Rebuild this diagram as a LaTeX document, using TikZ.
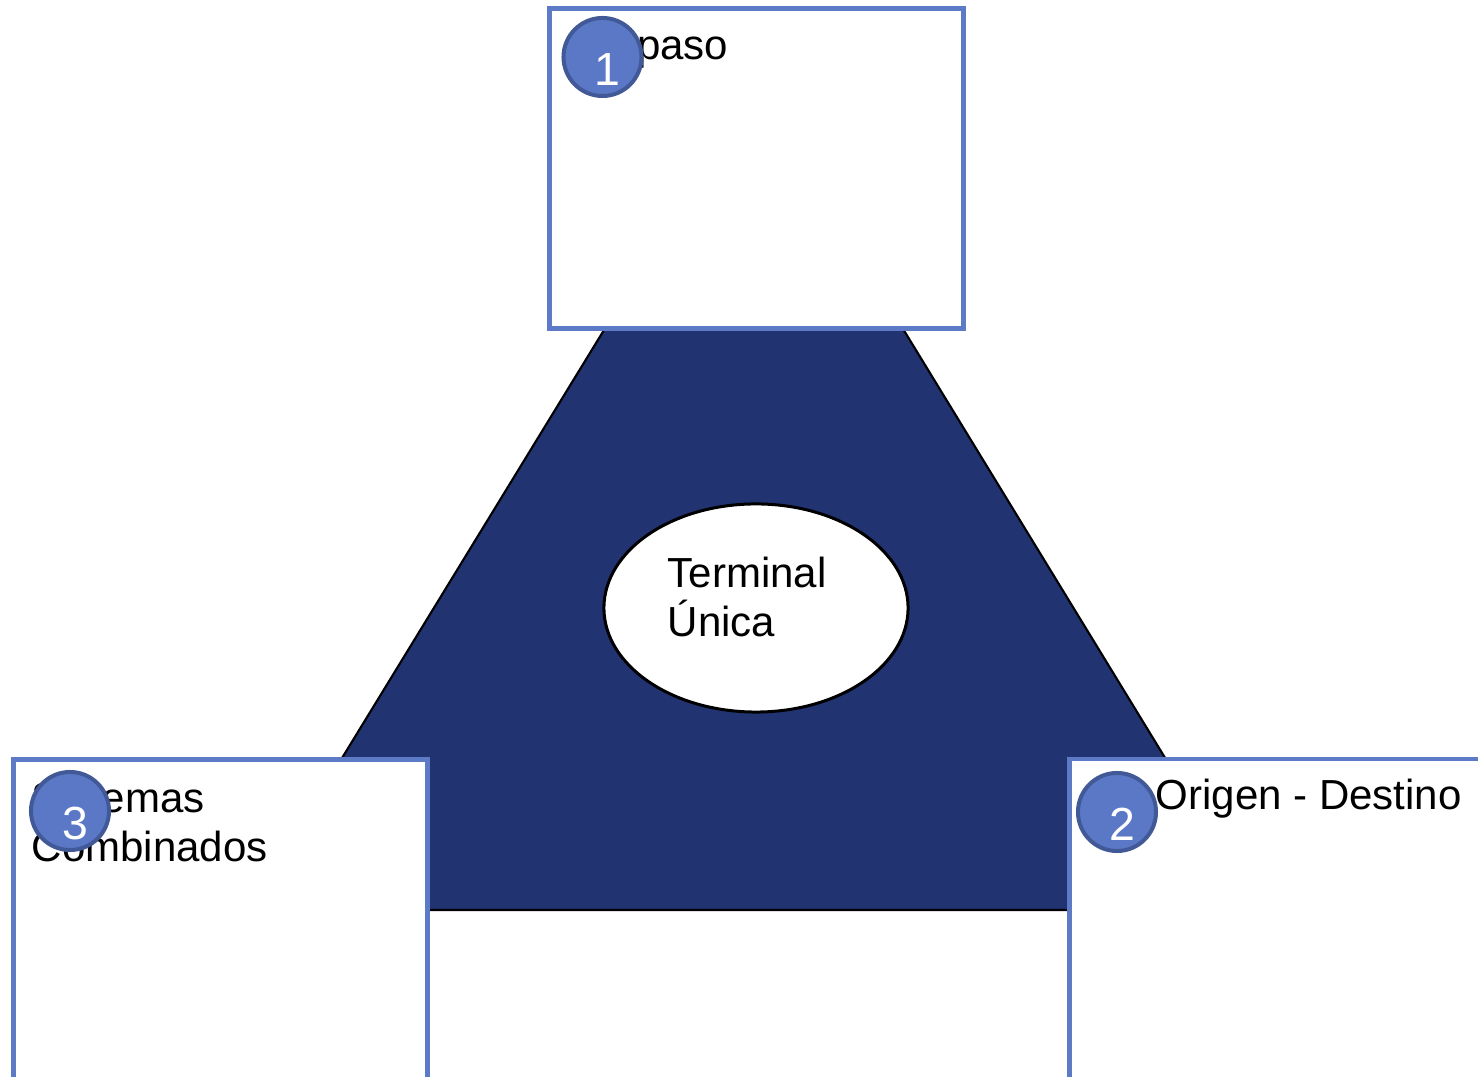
\documentclass[tikz,border=0pt]{standalone}
\usepackage{fontspec}
\setmainfont{Liberation Sans}
\usetikzlibrary{shapes.geometric}
\definecolor{boxblue}{RGB}{92,122,198}
\definecolor{dotfill}{RGB}{90,120,198}
\definecolor{dotline}{RGB}{66,89,152}
\definecolor{tridark}{RGB}{34,51,114}

\begin{document}
\begin{tikzpicture}[x=0.01cm,y=-0.01cm,
    typebox/.style={draw=boxblue, fill=white, line width=0.045cm, minimum width=4.14cm,
        minimum height=3.2cm, inner sep=0pt, outer sep=0pt, anchor=north west},
    numdot/.style={circle, fill=dotfill, draw=dotline, line width=0.04cm, minimum size=0.78cm,
        inner sep=0pt, text=white, font=\fontsize{13.2}{14}\selectfont,
        text height=0.57cm, text depth=0pt, execute at begin node={\kern0.1cm}},
    boxtext/.style={inner sep=0pt, align=left, font=\fontsize{11.95}{14}\selectfont}]

    \useasboundingbox (0,0) rectangle (1478,1077);
    \clip (0,0) rectangle (1478,1077);

    % dark triangle, its corners hidden by the boxes
    \filldraw[fill=tridark, draw=black, line width=0.6pt] (754,85) -- (1258,910) -- (249,910) -- cycle;

    \node[ellipse, draw=black, fill=white, line width=0.03cm, minimum width=3.04cm,
        minimum height=2.08cm] (terminal) at (756,608) {};
    \node[boxtext, anchor=north west] (terminaltxt) at (667,556) {Terminal\\Única};

    % the three kinds of terminal
    \node[typebox] (depaso) at (549.5,8.5) {};
    \node[typebox] (sistemas) at (13.5,759.5) {};
    \node[typebox] (origen) at (1069.5,759) {};

    \node[boxtext, anchor=base west] (depasotxt) at (571,60) {De paso};
    \node[boxtext, anchor=north west] (sistemastxt) at (31,781) {Sistemas\\Combinados};
    \node[boxtext, anchor=base west] (origentxt) at (1155,810) {Origen - Destino};

    \node[numdot] (n1) at (602.5,57) {1};
    \node[numdot] (n2) at (1117,812) {2};
    \node[numdot] (n3) at (70,811) {3};

\end{tikzpicture}
\end{document}
